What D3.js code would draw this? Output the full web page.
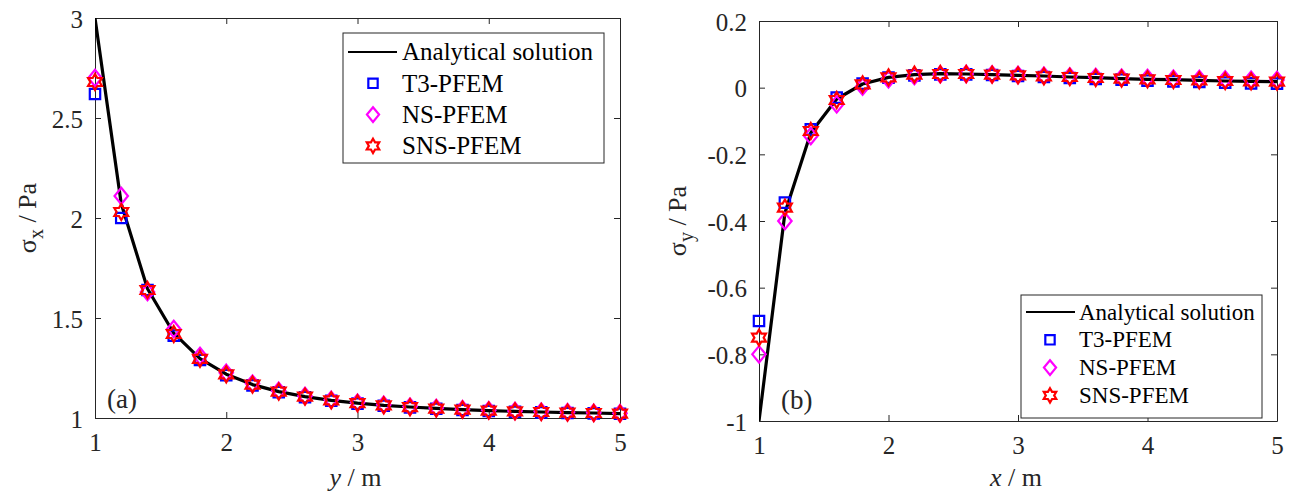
<!DOCTYPE html>
<html>
<head>
<meta charset="utf-8">
<script src="https://cdn.jsdelivr.net/npm/d3@7"></script>
<style>
  html, body { margin: 0; padding: 0; background: #fff; }
  svg { display: block; }
  svg text { font-family: "Liberation Serif", "Times New Roman", serif !important; }
</style>
</head>
<body>
<svg id="fig" width="1291" height="494"></svg>
<script>
// Sample positions (m) along the line away from the hole edge
const positions = [1.0, 1.2, 1.4, 1.6, 1.8, 2.0, 2.2, 2.4, 2.6, 2.8, 3.0,
                   3.2, 3.4, 3.6, 3.8, 4.0, 4.2, 4.4, 4.6, 4.8, 5.0];

// (a) sigma_x along y
const sxAnalytical = [3.000, 2.071, 1.646, 1.424, 1.297, 1.219, 1.167, 1.132, 1.107, 1.088, 1.074,
                      1.063, 1.055, 1.048, 1.042, 1.037, 1.033, 1.030, 1.027, 1.025, 1.022];
const sxT3  = [2.620, 2.000, 1.640, 1.412, 1.290, 1.214, 1.163, 1.129, 1.104, 1.086, 1.072,
               1.061, 1.053, 1.046, 1.040, 1.035, 1.031, 1.028, 1.025, 1.023, 1.021];
const sxNS  = [2.700, 2.110, 1.630, 1.445, 1.310, 1.226, 1.172, 1.136, 1.110, 1.091, 1.077,
               1.066, 1.057, 1.050, 1.044, 1.039, 1.035, 1.032, 1.029, 1.026, 1.024];
const sxSNS = [2.680, 2.030, 1.640, 1.420, 1.296, 1.218, 1.167, 1.132, 1.107, 1.088, 1.074,
               1.063, 1.054, 1.047, 1.042, 1.037, 1.033, 1.030, 1.027, 1.025, 1.022];

// (b) sigma_y along x
const syAnalytical = [-1.000, -0.376, -0.135, -0.034, 0.011, 0.031, 0.039, 0.042, 0.041, 0.039, 0.037,
                      0.035, 0.032, 0.030, 0.027, 0.025, 0.024, 0.022, 0.020, 0.019, 0.018];
const syT3  = [-0.700, -0.345, -0.125, -0.030, 0.012, 0.030, 0.037, 0.040, 0.040, 0.038, 0.035,
               0.032, 0.029, 0.026, 0.024, 0.021, 0.019, 0.017, 0.015, 0.013, 0.012];
const syNS  = [-0.800, -0.400, -0.145, -0.050, 0.003, 0.025, 0.035, 0.040, 0.041, 0.040, 0.038,
               0.036, 0.034, 0.032, 0.030, 0.029, 0.027, 0.026, 0.025, 0.024, 0.023];
const sySNS = [-0.750, -0.360, -0.130, -0.037, 0.010, 0.031, 0.039, 0.041, 0.041, 0.039, 0.037,
               0.034, 0.032, 0.029, 0.027, 0.025, 0.023, 0.022, 0.020, 0.019, 0.018];

const xTicks = [1, 2, 3, 4, 5];
const yTicksA = [1, 1.5, 2, 2.5, 3];
const yTicksB = [-1, -0.8, -0.6, -0.4, -0.2, 0, 0.2];

const legendLabels = ["Analytical solution", "T3-PFEM", "NS-PFEM", "SNS-PFEM"];
const seriesColors = { T3: "#0000ff", NS: "#ff00ff", SNS: "#ff0000" };

const SERIF = "'Liberation Serif', 'Times New Roman', serif";

// ---- marker shapes ----
const squareSym = { draw(ctx, r) { ctx.rect(-r, -r, 2 * r, 2 * r); } };
const diamondSym = { draw(ctx, r) {
  const w = r * 0.82;
  ctx.moveTo(0, -r); ctx.lineTo(w, 0); ctx.lineTo(0, r); ctx.lineTo(-w, 0); ctx.closePath();
} };
const hexagramSym = { draw(ctx, r) {
  const ri = r / Math.sqrt(3);
  for (let i = 0; i < 12; i++) {
    const a = -Math.PI / 2 + i * Math.PI / 6;
    const rr = i % 2 === 0 ? r : ri;
    const px = rr * Math.cos(a), py = rr * Math.sin(a);
    if (i === 0) ctx.moveTo(px, py); else ctx.lineTo(px, py);
  }
  ctx.closePath();
} };

function symPath(type, r) {
  const p = d3.path(); type.draw(p, r); return p.toString();
}

const svg = d3.select("#fig");

function drawPanel(cfg) {
  const { x, y, yTicks, yFmt, analytical, t3, ns, sns, xLabel, yLabelMain, yLabelSub, panelTag, tagPos, legend, yLabelX } = cfg;
  const g = svg.append("g").style("font-family", SERIF);
  const [x0, x1] = x.range();
  const [yb, yt] = y.range();

  const clipId = "clip-" + panelTag.replace(/[()]/g, "");
  g.append("clipPath").attr("id", clipId)
    .append("rect").attr("x", x0).attr("y", yt).attr("width", x1 - x0).attr("height", yb - yt);

  // axes: ticks point inward on all four sides
  const axisStyle = sel => {
    sel.attr("font-family", null).style("font-family", SERIF);
    sel.select(".domain").attr("stroke", "#262626").attr("stroke-width", 1);
    sel.selectAll(".tick line").attr("stroke", "#262626");
    sel.selectAll(".tick text").attr("font-size", 25).style("font-family", SERIF).attr("fill", "#262626");
  };
  const bottomAxis = g.append("g").attr("transform", `translate(0,${yb})`)
    .call(d3.axisBottom(x).tickValues(xTicks).tickSize(-6).tickPadding(15).tickSizeOuter(0).tickFormat(d3.format("d")))
    .call(axisStyle);
  bottomAxis.selectAll(".tick text").attr("dy", "0.71em");
  g.append("g").attr("transform", `translate(0,${yt})`)
    .call(d3.axisTop(x).tickValues(xTicks).tickSize(-6).tickSizeOuter(0).tickFormat(""))
    .call(axisStyle);
  const leftAxis = g.append("g").attr("transform", `translate(${x0},0)`)
    .call(d3.axisLeft(y).tickValues(yTicks).tickSize(-6).tickPadding(12).tickSizeOuter(0).tickFormat(yFmt))
    .call(axisStyle);
  leftAxis.selectAll(".tick text").attr("dy", "0.36em");
  g.append("g").attr("transform", `translate(${x1},0)`)
    .call(d3.axisRight(y).tickValues(yTicks).tickSize(-6).tickSizeOuter(0).tickFormat(""))
    .call(axisStyle);

  // analytical curve
  const line = d3.line().x((d, i) => x(positions[i])).y(d => y(d));
  g.append("path").datum(analytical)
    .attr("clip-path", `url(#${clipId})`)
    .attr("d", line).attr("fill", "none").attr("stroke", "#000").attr("stroke-width", 3.2)
    .attr("stroke-linejoin", "round");

  // numerical results
  const series = [
    { vals: t3, sym: squareSym, r: 5.2, color: seriesColors.T3 },
    { vals: ns, sym: diamondSym, r: 8.2, color: seriesColors.NS },
    { vals: sns, sym: hexagramSym, r: 8, color: seriesColors.SNS }
  ];
  series.forEach(s => {
    const d = symPath(s.sym, s.r);
    g.append("g").selectAll("path").data(s.vals).join("path")
      .attr("transform", (v, i) => `translate(${x(positions[i])},${y(v)})`)
      .attr("d", d).attr("fill", "none").attr("stroke", s.color).attr("stroke-width", 2.2);
  });

  // axis labels
  const xl = g.append("text").attr("x", (x0 + x1) / 2 - 2).attr("y", 486)
    .attr("text-anchor", "middle").attr("font-size", 26).attr("fill", "#262626");
  xl.append("tspan").attr("font-style", "italic").text(xLabel);
  xl.append("tspan").text(" / m");

  const yl = g.append("text")
    .attr("transform", `translate(${yLabelX},${(yb + yt) / 2}) rotate(-90)`)
    .attr("text-anchor", "middle").attr("font-size", 26).attr("fill", "#262626");
  yl.append("tspan").text(yLabelMain);
  yl.append("tspan").attr("font-size", 20).attr("dy", 7).text(yLabelSub);
  yl.append("tspan").attr("dy", -7).text(" / Pa");

  // panel tag
  g.append("text").attr("x", tagPos[0]).attr("y", tagPos[1]).attr("font-size", 27)
    .attr("fill", "#262626").text(panelTag);

  // legend
  const L = legend;
  const lg = g.append("g");
  lg.append("rect").attr("x", L.x).attr("y", L.y).attr("width", L.w).attr("height", L.h)
    .attr("fill", "#fff").attr("stroke", "#262626").attr("stroke-width", 1);
  legendLabels.forEach((lab, i) => {
    const cy = L.y + L.first + i * L.step;
    if (i === 0) {
      lg.append("line").attr("x1", L.x + 5).attr("x2", L.x + 54).attr("y1", cy).attr("y2", cy)
        .attr("stroke", "#000").attr("stroke-width", 2.2);
    } else {
      const s = series[i - 1];
      lg.append("path").attr("transform", `translate(${L.x + L.mk},${cy})`)
        .attr("d", symPath(s.sym, s.r * 0.9)).attr("fill", "none")
        .attr("stroke", s.color).attr("stroke-width", 2.2);
    }
    lg.append("text").attr("x", L.x + L.tx).attr("y", cy).attr("dy", "0.33em")
      .attr("font-size", L.fs).attr("fill", "#000").text(lab);
  });
}

const fmtA = d => String(d);
const fmtB = d => String(d);

drawPanel({
  x: d3.scaleLinear().domain([1, 5]).range([95, 620]),
  y: d3.scaleLinear().domain([1, 3]).range([418, 18]),
  yTicks: yTicksA, yFmt: fmtA,
  analytical: sxAnalytical, t3: sxT3, ns: sxNS, sns: sxSNS,
  xLabel: "y", yLabelMain: "\u03c3", yLabelSub: "x", yLabelX: 36,
  panelTag: "(a)", tagPos: [107, 408],
  legend: { x: 343, y: 33, w: 261, h: 130, first: 19, step: 31.3, mk: 30, tx: 59, fs: 25 }
});

drawPanel({
  x: d3.scaleLinear().domain([1, 5]).range([759, 1277]),
  y: d3.scaleLinear().domain([-1, 0.2]).range([421, 21]),
  yTicks: yTicksB, yFmt: fmtB,
  analytical: syAnalytical, t3: syT3, ns: syNS, sns: sySNS,
  xLabel: "x", yLabelMain: "\u03c3", yLabelSub: "y", yLabelX: 686,
  panelTag: "(b)", tagPos: [781, 409],
  legend: { x: 1021, y: 295, w: 241, h: 123, first: 17, step: 27.8, mk: 29, tx: 58, fs: 23 }
});
</script>
</body>
</html>
